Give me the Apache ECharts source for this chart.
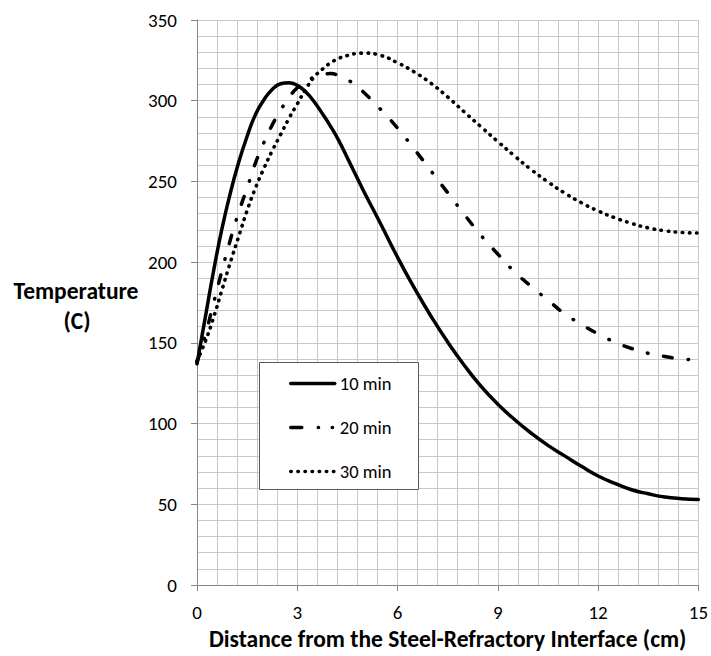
<!DOCTYPE html>
<html>
<head>
<meta charset="utf-8">
<script src="https://cdn.jsdelivr.net/npm/echarts@6/dist/echarts.min.js"></script>
<style>
  html, body { margin: 0; padding: 0; background: #fff; }
  #chart { width: 711px; height: 656px; }
</style>
</head>
<body>
<div id="chart"></div>
<script>
// Distance from the steel-refractory interface (cm)
const distance = [0, 0.25, 0.5, 0.75, 1, 1.25, 1.5, 1.75, 2, 2.25, 2.5, 2.75, 3, 3.25, 3.5, 3.75, 4, 4.25, 4.5, 4.75, 5,
  5.5, 6, 6.5, 7, 7.5, 8, 8.5, 9, 9.5, 10, 10.5, 11, 11.5, 12, 12.5, 13, 13.5, 14, 14.5, 15];

// Temperature profiles (C) after each heating time
const temp10 = [137, 166, 195, 221, 243, 262, 278, 291.5, 300.5, 307, 310.5, 311.2, 309.5, 305.5, 299.5, 292, 284, 275, 264.5, 254, 243.5,
  223.5, 203, 184, 166.5, 150.5, 136, 123, 112, 102.5, 94, 86.5, 80, 73.5, 67.5, 63, 59, 56.5, 54.5, 53.5, 53];
const temp20 = [138, 155, 175, 195, 214, 231, 246, 261.5, 274, 285, 294, 302, 308, 312, 314.5, 316, 316.8, 315.5, 313, 309.5, 305,
  294.5, 283, 270, 256.5, 243, 229.5, 216.5, 205, 194, 185, 176.5, 168, 161.5, 155.5, 150.5, 146.5, 143.5, 141.5, 140, 139.5];
const temp30 = [139, 151, 166, 183, 200, 216, 232, 246, 258, 269, 279, 289, 298, 307, 314.5, 319.5, 323.5, 326.3, 328, 329.2, 329.5,
  328, 323.5, 317.8, 310.8, 302.3, 293, 283.8, 274.7, 265.8, 257.3, 249.7, 242.8, 236.8, 231.7, 227.5, 224, 221.2, 219.4, 218.4, 218];

const seriesNames = ['10 min', '20 min', '30 min'];
const xTitle = 'Distance from the Steel-Refractory Interface (cm)';
const yTitle = ['Temperature', '(C)'];

const FONT = 'Calibri, Carlito, Lato, sans-serif';
const GRID_COLOR = '#c8c8c8';
const AXIS_COLOR = '#868686';

const pairs = (ys) => distance.map((x, i) => [x, ys[i]]);

const chart = echarts.init(document.getElementById('chart'), null, { renderer: 'svg' });

const lineBase = { type: 'line', symbol: 'none', showSymbol: false, smooth: 0.5, z: 2, itemStyle: { color: '#000' } };

const dashDot = [8.5, 16, 0.5, 16];
const dots = [0.5, 6.6];

chart.setOption({
  backgroundColor: '#ffffff',
  animation: false,
  grid: { left: 197, right: 12, top: 20, bottom: 71, containLabel: false },
  xAxis: {
    type: 'value', min: 0, max: 15, interval: 3,
    name: xTitle, nameLocation: 'middle', nameGap: 42,
    nameTextStyle: { fontFamily: FONT, fontSize: 23.5, fontWeight: 'bold', color: '#000' },
    axisLine: { show: true, lineStyle: { color: AXIS_COLOR, width: 1 } },
    axisTick: { show: true, inside: false, length: 6, lineStyle: { color: AXIS_COLOR } },
    axisLabel: { fontFamily: FONT, fontSize: 19, color: '#000', margin: 18 },
    splitLine: { show: true, lineStyle: { color: GRID_COLOR, width: 1 } },
    minorTick: { show: false, splitNumber: 5 },
    minorSplitLine: { show: true, lineStyle: { color: GRID_COLOR, width: 1 } }
  },
  yAxis: {
    type: 'value', min: 0, max: 350, interval: 50,
    axisLine: { show: true, lineStyle: { color: AXIS_COLOR, width: 1 } },
    axisTick: { show: true, inside: false, length: 6, lineStyle: { color: AXIS_COLOR } },
    axisLabel: { fontFamily: FONT, fontSize: 19, color: '#000', margin: 20 },
    splitLine: { show: true, lineStyle: { color: GRID_COLOR, width: 1 } },
    minorTick: { show: false, splitNumber: 5 },
    minorSplitLine: { show: true, lineStyle: { color: GRID_COLOR, width: 1 } }
  },
  legend: {
    orient: 'vertical', left: 289, top: 374, padding: 0,
    itemWidth: 44, itemHeight: 18, itemGap: 25, z: 10,
    itemStyle: { opacity: 0 },
    textStyle: { fontFamily: FONT, fontSize: 18.5, color: '#000' },
    data: [
      { name: seriesNames[0], lineStyle: { width: 3.5, color: '#000' } },
      { name: seriesNames[1], lineStyle: { width: 3.5, color: '#000', type: [11, 16.5, 0.3, 13.7, 0.3, 10], cap: 'round' } },
      { name: seriesNames[2], lineStyle: { width: 3.5, color: '#000', type: dots, cap: 'round' } }
    ]
  },
  graphic: [
    {
      type: 'rect', z: 5, silent: true,
      shape: { x: 259.5, y: 362.5, width: 159, height: 127 },
      style: { fill: '#ffffff', stroke: '#595959', lineWidth: 1 }
    },
    {
      type: 'text', z: 5, silent: true,
      x: 76, y: 291,
      style: { text: yTitle[0], fontFamily: FONT, fontSize: 23.5, fontWeight: 'bold', fill: '#000',
               align: 'center', verticalAlign: 'middle' }
    },
    {
      type: 'text', z: 5, silent: true,
      x: 77, y: 321,
      style: { text: yTitle[1], fontFamily: FONT, fontSize: 23.5, fontWeight: 'bold', fill: '#000',
               align: 'center', verticalAlign: 'middle' }
    }
  ],
  series: [
    Object.assign({}, lineBase, {
      name: seriesNames[0], data: pairs(temp10),
      lineStyle: { color: '#000', width: 3.5, type: 'solid', cap: 'round' }
    }),
    Object.assign({}, lineBase, {
      name: seriesNames[1], data: pairs(temp20),
      lineStyle: { color: '#000', width: 3.5, type: dashDot, cap: 'round' }
    }),
    Object.assign({}, lineBase, {
      name: seriesNames[2], data: pairs(temp30),
      lineStyle: { color: '#000', width: 3.6, type: dots, cap: 'round' }
    })
  ]
});
</script>
</body>
</html>
